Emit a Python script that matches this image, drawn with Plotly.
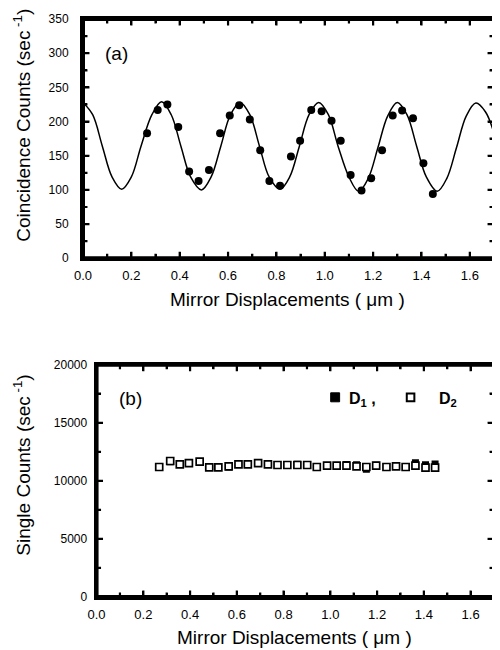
import plotly.graph_objects as go

# ---- Panel (a): coincidence counts ----
coin_x = [0.265, 0.309, 0.349, 0.394, 0.439, 0.478, 0.521, 0.567, 0.607, 0.646,
          0.690, 0.733, 0.771, 0.815, 0.860, 0.898, 0.944, 0.987, 1.028, 1.066,
          1.107, 1.152, 1.192, 1.237, 1.281, 1.320, 1.365, 1.408, 1.447]
coin_y = [183, 217, 225, 192, 127, 113, 129, 183, 209, 224,
          203, 158, 113, 106, 149, 172, 217, 215, 201, 172,
          122, 99, 117, 158, 209, 216, 205, 139, 94]

fit_x = [0.00, 0.04, 0.08, 0.12, 0.16, 0.20, 0.24, 0.285, 0.325, 0.365,
         0.405, 0.445, 0.49, 0.53, 0.57, 0.61, 0.65, 0.69, 0.73, 0.77,
         0.815, 0.855, 0.895, 0.935, 0.975, 1.015, 1.055, 1.10, 1.14, 1.18,
         1.22, 1.26, 1.30, 1.34, 1.38, 1.42, 1.465, 1.505, 1.545, 1.585,
         1.625, 1.665, 1.70]
fit_y = [228, 210, 164, 119, 101, 119, 164, 210, 229, 210,
         164, 119, 100, 119, 164, 210, 228, 210, 164, 119,
         101, 119, 164, 210, 228, 210, 164, 119, 98, 117,
         162, 208, 228, 210, 164, 119, 98, 117, 162, 208,
         227, 214, 183]

# ---- Panel (b): single counts ----
single_x = [0.268, 0.315, 0.356, 0.395, 0.441, 0.482, 0.521, 0.565, 0.607, 0.647,
            0.691, 0.733, 0.774, 0.816, 0.859, 0.901, 0.942, 0.986, 1.027, 1.069,
            1.112, 1.154, 1.196, 1.240, 1.281, 1.322, 1.364, 1.407, 1.448]
d1_y = [11190, 11650, 11400, 11500, 11600, 11150, 11150, 11200, 11450, 11500,
        11580, 11450, 11380, 11400, 11420, 11350, 11200, 11320, 11320, 11400,
        11380, 11000, 11350, 11200, 11250, 11220, 11550, 11380, 11450]
d2_y = [11190, 11705, 11420, 11530, 11650, 11160, 11160, 11250, 11420, 11420,
        11530, 11420, 11360, 11360, 11360, 11360, 11190, 11300, 11300, 11300,
        11250, 11190, 11300, 11190, 11250, 11190, 11300, 11130, 11130]

# ---- axes ----
x_range = [0, 1.7]
ya_range = [0, 350]
yb_range = [0, 20000]
x_ticks = [0.0, 0.2, 0.4, 0.6, 0.8, 1.0, 1.2, 1.4, 1.6]
x_ticklabels = ["0.0", "0.2", "0.4", "0.6", "0.8", "1.0", "1.2", "1.4", "1.6"]
x_minor = [0.1, 0.3, 0.5, 0.7, 0.9, 1.1, 1.3, 1.5]
ya_ticks = [0, 50, 100, 150, 200, 250, 300, 350]
ya_ticklabels = ["0", "50", "100", "150", "200", "250", "300", "350"]
ya_minor = [25, 75, 125, 175, 225, 275, 325]
yb_ticks = [0, 5000, 10000, 15000, 20000]
yb_ticklabels = ["0", "5000", "10000", "15000", "20000"]
yb_minor = [2500, 7500, 12500, 17500]

FONT = "Arial, Liberation Sans, sans-serif"

# layout geometry (figure pixels)
FIG_W, FIG_H = 492, 642
M_L, M_R, M_T, M_B = 75, 3, 11, 53
PW, PH = FIG_W - M_L - M_R, FIG_H - M_T - M_B
XDOM_A, YDOM_A = [0, 1], [0.586, 1]
XDOM_B, YDOM_B = [0.033, 1], [0, 0.402]

fig = go.Figure()


def inner_ticks(xa, ya, xr, yr, xdom, ydom, xt, xm, yt, ym):
    px_per_x = PW * (xdom[1] - xdom[0]) / (xr[1] - xr[0])
    px_per_y = PH * (ydom[1] - ydom[0]) / (yr[1] - yr[0])
    sx, sy = [], []
    for vals, ln in ((xt, 6.5), (xm, 4.5)):
        d = ln / px_per_y
        for v in vals:
            sx += [v, v, None, v, v, None]
            sy += [yr[0], yr[0] + d, None, yr[1], yr[1] - d, None]
    for vals, ln in ((yt, 6.5), (ym, 4.5)):
        d = ln / px_per_x
        for v in vals:
            sx += [xr[0], xr[0] + d, None, xr[1], xr[1] - d, None]
            sy += [v, v, None, v, v, None]
    fig.add_trace(go.Scatter(
        x=sx, y=sy, mode="lines", line=dict(color="black", width=2.2),
        cliponaxis=False, xaxis=xa, yaxis=ya, showlegend=False, hoverinfo="skip"))


inner_ticks("x", "y", x_range, ya_range, XDOM_A, YDOM_A, x_ticks, x_minor, ya_ticks, ya_minor)
inner_ticks("x2", "y2", x_range, yb_range, XDOM_B, YDOM_B, x_ticks, x_minor, yb_ticks, yb_minor)

fig.add_trace(go.Scatter(x=fit_x, y=fit_y, mode="lines",
                         line=dict(color="black", width=1.5, shape="spline"),
                         xaxis="x", yaxis="y", showlegend=False))
fig.add_trace(go.Scatter(x=coin_x, y=coin_y, mode="markers",
                         marker=dict(color="black", size=8, symbol="circle"),
                         xaxis="x", yaxis="y", showlegend=False))
fig.add_trace(go.Scatter(x=single_x, y=d1_y, mode="markers",
                         marker=dict(color="black", size=7, symbol="square"),
                         xaxis="x2", yaxis="y2", showlegend=False))
fig.add_trace(go.Scatter(x=single_x, y=d2_y, mode="markers",
                         marker=dict(color="white", size=7, symbol="square",
                                     line=dict(color="black", width=1.7)),
                         xaxis="x2", yaxis="y2", showlegend=False))

common_x = dict(range=x_range, tickmode="array", tickvals=x_ticks, ticktext=x_ticklabels,
                ticks="inside", ticklen=6, tickwidth=2, tickcolor="black",
                minor=dict(tickmode="array", tickvals=x_minor, ticks="inside", ticklen=4,
                           tickwidth=2, tickcolor="black", showgrid=False),
                showline=True, linewidth=3, linecolor="black", mirror="ticks",
                showgrid=False, zeroline=False, ticklabelstandoff=3,
                tickfont=dict(family=FONT, size=13, color="black"))
common_y = dict(ticks="inside", ticklen=6, tickwidth=2, tickcolor="black",
                showline=True, linewidth=3, linecolor="black", mirror="ticks",
                showgrid=False, zeroline=False, tickmode="array",
                tickfont=dict(family=FONT, size=12, color="black"))

fig.update_layout(
    width=FIG_W, height=FIG_H,
    margin=dict(l=M_L, r=M_R, t=M_T, b=M_B),
    paper_bgcolor="white", plot_bgcolor="white",
    xaxis=dict(domain=XDOM_A, anchor="y", **common_x),
    yaxis=dict(domain=YDOM_A, anchor="x", range=ya_range, ticklabelstandoff=9,
               tickvals=ya_ticks, ticktext=ya_ticklabels,
               minor=dict(tickmode="array", tickvals=ya_minor, ticks="inside", ticklen=4,
                          tickwidth=2, tickcolor="black", showgrid=False),
               **common_y),
    xaxis2=dict(domain=XDOM_B, anchor="y2", **common_x),
    yaxis2=dict(domain=YDOM_B, anchor="x2", range=yb_range, ticklabelstandoff=4,
                tickvals=yb_ticks, ticktext=yb_ticklabels,
                minor=dict(tickmode="array", tickvals=yb_minor, ticks="inside", ticklen=4,
                           tickwidth=2, tickcolor="black", showgrid=False),
                **common_y),
    font=dict(family=FONT, color="black"),
)

# frames
for xr_, yr_ in (("x domain", "y domain"), ("x2 domain", "y2 domain")):
    fig.add_shape(type="rect", xref=xr_, yref=yr_, x0=0, x1=1, y0=0, y1=1,
                  line=dict(color="black", width=4), fillcolor="rgba(0,0,0,0)",
                  layer="above")

# legend symbols for panel (b)
LX1, LX2, LY = 0.6135, 0.797, 0.3455
HX, HY = 4.5 / PW, 4.5 / PH
fig.add_shape(type="rect", xref="paper", yref="paper",
              x0=LX1 - HX, x1=LX1 + HX, y0=LY - HY, y1=LY + HY,
              line=dict(color="black", width=1), fillcolor="black")
fig.add_shape(type="rect", xref="paper", yref="paper",
              x0=LX2 - HX * 0.85, x1=LX2 + HX * 0.85, y0=LY - HY * 0.85, y1=LY + HY * 0.85,
              line=dict(color="black", width=2), fillcolor="white")


def ann(text, x, y, size, xanchor="center", angle=0, yanchor="middle"):
    fig.add_annotation(text=text, x=x, y=y, xref="paper", yref="paper",
                       showarrow=False, xanchor=xanchor, yanchor=yanchor,
                       textangle=angle, font=dict(family=FONT, size=size, color="black"))


ann("Mirror Displacements ( μm )", 0.4976, 0.515, 19)
ann("Mirror Displacements ( μm )", 0.5145, -0.0697, 19)
ann("Coincidence Counts (sec<sup> -1</sup>)", -0.1473, 0.816, 19, angle=-90)
ann("Single Counts (sec<sup> -1</sup>)", -0.1473, 0.228, 19, angle=-90)
ann("(a)", 0.082, 0.9407, 19)
ann("(b)", 0.116, 0.3438, 19)
ann("<b>D<sub>1</sub> ,</b>", 0.6425, 0.3425, 16, xanchor="left")
ann("<b>D<sub>2</sub></b>", 0.862, 0.3425, 16, xanchor="left")

fig.write_html("out.html")
